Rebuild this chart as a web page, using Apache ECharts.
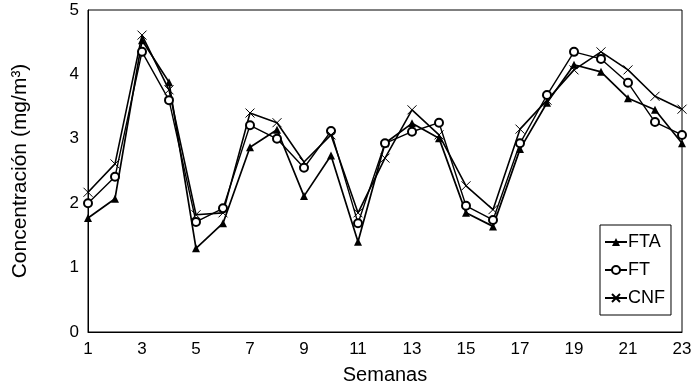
<!DOCTYPE html>
<html>
<head>
<meta charset="utf-8">
<script src="https://cdn.jsdelivr.net/npm/echarts@6/dist/echarts.min.js"></script>
<style>
  html, body { margin: 0; padding: 0; background: #fff; }
  #chart { width: 696px; height: 390px; }
</style>
</head>
<body>
<div id="chart"></div>
<script>
// semanas 1..23
const weeks = ['1','2','3','4','5','6','7','8','9','10','11','12','13','14','15','16','17','18','19','20','21','22','23']
const fta = [1.77, 2.07, 4.53, 3.88, 1.30, 1.69, 2.87, 3.14, 2.11, 2.74, 1.40, 2.93, 3.24, 3.01, 1.85, 1.64, 2.84, 3.56, 4.15, 4.04, 3.63, 3.45, 2.93]
const ft = [2.00, 2.41, 4.35, 3.60, 1.71, 1.92, 3.21, 3.00, 2.55, 3.12, 1.69, 2.93, 3.11, 3.25, 1.96, 1.74, 2.93, 3.68, 4.35, 4.24, 3.87, 3.26, 3.06]
const cnf = [2.17, 2.61, 4.61, 3.76, 1.82, 1.85, 3.40, 3.25, 2.64, 3.06, 1.85, 2.70, 3.45, 3.06, 2.27, 1.90, 3.15, 3.60, 4.07, 4.35, 4.07, 3.66, 3.46]
const yTicks = [0, 1, 2, 3, 4, 5]

const font = 'Liberation Sans, Arial, sans-serif'
const crossSymbol = 'path://M0,0L10,10M10,0L0,10'

const chart = echarts.init(document.getElementById('chart'))

const option = {
  animation: false,
  backgroundColor: '#fff',
  grid: {
    left: 88,
    right: 14,
    top: 10,
    bottom: 58,
    show: true,
    borderColor: '#000',
    borderWidth: 1
  },
  legend: {
    orient: 'vertical',
    left: 600,
    top: 225,
    width: 72,
    padding: [8, 6, 8, 4],
    itemGap: 10,
    itemWidth: 22,
    itemHeight: 10,
    borderColor: '#000',
    borderWidth: 1,
    backgroundColor: '#fff',
    textStyle: { fontFamily: font, fontSize: 18, color: '#000', padding: [0, 0, 0, -4] },
    data: ['FTA', 'FT', 'CNF']
  },
  xAxis: {
    type: 'category',
    data: weeks,
    boundaryGap: false,
    name: 'Semanas',
    nameLocation: 'middle',
    nameGap: 33,
    nameTextStyle: { fontFamily: font, fontSize: 20, color: '#000' },
    axisLine: { lineStyle: { color: '#000', width: 1 } },
    axisTick: { show: false },
    axisLabel: { interval: 1, fontFamily: font, fontSize: 17, color: '#000', margin: 9 },
    splitLine: { show: false }
  },
  yAxis: {
    type: 'value',
    min: yTicks[0],
    max: yTicks[yTicks.length - 1],
    interval: 1,
    name: 'Concentración (mg/m³)',
    nameLocation: 'middle',
    nameGap: 57,
    nameTextStyle: { fontFamily: font, fontSize: 21, color: '#000' },
    axisLine: { show: true, lineStyle: { color: '#000', width: 1 } },
    axisTick: { show: false },
    axisLabel: { fontFamily: font, fontSize: 17, color: '#000', margin: 9 },
    splitLine: { show: false }
  },
  series: [
    {
      name: 'FTA',
      type: 'line',
      data: fta,
      symbol: 'triangle',
      symbolSize: 8,
      showAllSymbol: true,
      lineStyle: { color: '#000', width: 1.7 },
      itemStyle: { color: '#000' }
    },
    {
      name: 'FT',
      type: 'line',
      data: ft,
      symbol: 'emptyCircle',
      symbolSize: 8,
      showAllSymbol: true,
      lineStyle: { color: '#000', width: 1.4 },
      itemStyle: { color: '#000', borderColor: '#000', borderWidth: 1 }
    },
    {
      name: 'CNF',
      type: 'line',
      data: cnf,
      symbol: crossSymbol,
      symbolSize: 9,
      showAllSymbol: true,
      lineStyle: { color: '#000', width: 1.6 },
      itemStyle: { color: 'none', borderColor: '#000', borderWidth: 1 }
    }
  ]
}

chart.setOption(option)
</script>
</body>
</html>
